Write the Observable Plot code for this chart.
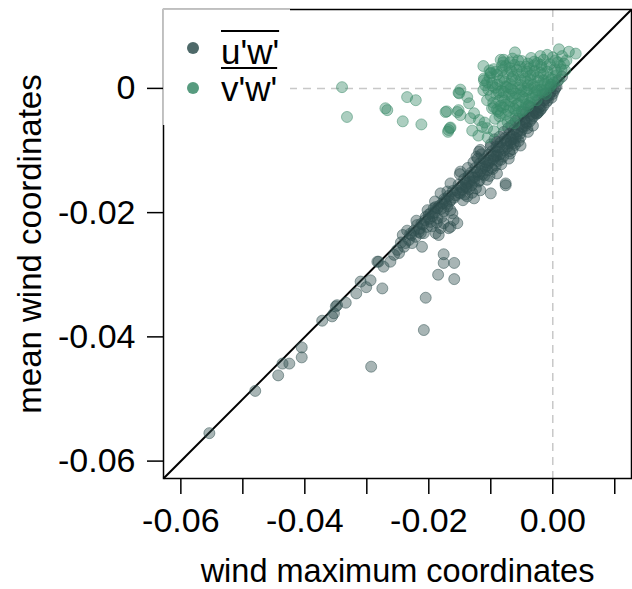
<!DOCTYPE html>
<html><head><meta charset="utf-8">
<script src="https://cdn.jsdelivr.net/npm/d3@7"></script>
<script src="https://cdn.jsdelivr.net/npm/@observablehq/plot@0.6"></script>
<style>
body{margin:0;background:#fff;font-family:"Liberation Sans",Arial,sans-serif;}
#wrap{position:relative;width:632px;height:589px;overflow:hidden;}
#legend{position:absolute;left:163px;top:9px;width:127px;height:116px;background:#fff;border-top:1px solid #c4c4c4;border-left:1px solid #c4c4c4;box-sizing:border-box;}
.ld{position:absolute;width:12px;height:12px;border-radius:50%;}
.lt{position:absolute;font-size:35px;line-height:1;white-space:nowrap;text-decoration:overline;text-decoration-thickness:2px;color:#000;}
</style>
</head><body>
<div id="wrap"><div id="legend"></div></div>
<script>
const lim = [-0.0628, 0.0127];
const seriesNames = ["u'w'", "v'w'"];
const seriesColors = ["#2f4f4f", "#3a8a68"];

const xTicks = [-0.06,-0.05,-0.04,-0.03,-0.02,-0.01,0,0.01];
const xTickLabels = ["-0.06","","-0.04","","-0.02","","0.00",""];
const yTicks = [0,-0.02,-0.04,-0.06];
const yTickLabels = ["0","-0.02","-0.04","-0.06"];
const xTitle = "wind maximum coordinates";
const yTitle = "mean wind coordinates";

// u'w' (values in units of 0.001)
const uX = [-55.4,-48.0,-44.3,-43.6,-42.5,-40.5,-40.5,-29.3,-37.2,-35.6,-35.3,-35.0,-34.8,-33.4,-31.7,-31.0,-30.1,-29.4,-27.5,-28.1,-27.3,-28.3,-26.2,-25.6,-24.8,-25.1,-24.0,-23.2,-22.7,-22.1,-21.6,-21.1,-20.8,-20.3,-19.7,-18.9,-18.1,-18.4,-17.6,-16.8,-16.0,-16.2,-19.7,-18.6,-17.8,-17.0,-16.5,-15.4,-17.6,-17.6,-15.9,-18.5,-15.9,-20.5,-20.8,-18.1,-17.0,-14.9,-13.8,-12.7,-10.0,-21.3,-16.5,-17.6,-18.6,-20.5,-19.2,-16.5,-14.9,-13.8,-11.7,-11.7,-10.0,-8.4,-7.1,-7.6,-9.0,-10.6,-6.3,-7.6,-11.9,-6.8,-5.2,-4.1,-2.5,-2.3,
-24.5,-23.8,-23.0,-22.4,-21.9,-21.2,-20.6,-20.0,-19.4,-18.9,-18.3,-17.5,-17.2,-16.8,-16.1,-15.7,-15.2,-14.8,-14.3,-14.0,-13.6,-13.2,-12.9,-12.5,-12.2,-11.8,-11.4,-11.1,-10.8,-10.4,-10.1,-9.8,-9.5,-9.1,-8.8,-8.4,-8.1,-7.7,-7.4,-7.0,-6.6,-6.2,-5.8,-5.4,-5.0,-4.6,-4.2,-3.8,-3.4,-3.0,-2.6,-2.2,-1.8,-1.4,-1.0,-0.6,-0.2,0.2,0.6,
-13.5,-12.0,-10.5,-9.2,-8.0,-6.5,-5.5,-4.0,-3.2,-15.0,-12.8,-11.5,-10.0,-8.6,-7.2,-6.0,-4.8,-3.6,-2.4,-1.2,-19.0,-20.2,-22.0,-23.5,-24.2,
-14.5,-13.0,-11.0,-9.7,-8.3,-6.9,-5.2,-12.3,-9.4,-7.9,-5.6,-3.9,-1.6,0.8,1.5,-0.3,
-22.8,-21.5,-20.9,-19.9,-19.1,-18.0,-17.3,-16.6,-15.9,-15.5,-14.6,-14.1,-13.4,-12.7,-12.0,-11.6,-10.9,-10.3,-9.6,-9.0,-8.5,-7.8,-7.3,-6.8,-6.0,-5.3,-4.9,-4.4,-3.7,-3.1,-2.8,-2.0,-1.5,-0.8,-0.4,0.0,0.4,
-16.4,-15.1,-13.9,-12.6,-11.3,-10.6,-9.3,-8.7,-7.5,-6.4,-5.7,-4.5,-3.3,-2.1,-1.1,-18.7,-17.9,-19.5,-14.2,-13.1,-12.4,-11.8,-10.2,-9.9,-8.9,-7.0,-6.1,-13.7,-12.1,-9.0,-6.7,-4.3];
const uY = [-55.5,-48.7,-46.2,-44.3,-44.3,-41.7,-43.3,-44.8,-37.4,-36.7,-36.2,-35.1,-34.9,-34.5,-33.0,-31.1,-32.0,-30.9,-32.2,-27.9,-28.7,-27.9,-27.9,-26.8,-26.5,-26.0,-25.5,-24.4,-24.9,-23.9,-23.1,-25.5,-23.3,-22.3,-21.5,-23.3,-22.5,-23.6,-21.7,-22.5,-21.2,-20.1,-20.1,-19.3,-18.5,-19.0,-19.6,-21.7,-26.7,-28.1,-28.1,-30.0,-30.7,-33.7,-38.9,-16.9,-16.6,-16.9,-17.4,-17.7,-16.9,-23.3,-22.3,-19.8,-20.9,-20.7,-19.3,-15.3,-13.4,-15.3,-16.4,-9.9,-9.4,-11.5,-11.3,-15.3,-13.7,-14.7,-8.8,-15.6,-10.2,-8.3,-7.8,-6.4,-4.0,-3.8,
-24.8,-24.9,-23.4,-22.9,-22.0,-21.8,-21.2,-20.3,-20.6,-19.1,-18.9,-17.8,-18.6,-17.3,-16.5,-17.2,-15.5,-15.9,-14.6,-15.2,-14.1,-13.6,-14.4,-12.8,-13.5,-12.1,-12.9,-11.4,-11.9,-10.7,-11.6,-10.1,-10.9,-9.4,-10.2,-8.7,-9.6,-8.0,-8.9,-7.3,-8.2,-6.6,-7.4,-5.9,-6.7,-5.0,-5.6,-4.3,-4.9,-3.5,-4.1,-2.6,-3.2,-1.9,-2.2,-1.1,-1.5,-0.4,0.3,
-16.2,-15.0,-13.2,-12.4,-11.0,-9.8,-8.5,-7.0,-6.0,-13.8,-11.9,-10.6,-9.0,-7.8,-6.4,-5.2,-4.2,-3.0,-2.0,-0.8,-18.2,-19.6,-21.3,-22.9,-23.6,
-18.0,-16.8,-14.0,-13.0,-12.2,-10.5,-9.2,-11.0,-8.2,-7.0,-4.9,-2.8,-1.0,1.2,1.9,0.2,
-23.6,-22.6,-21.9,-21.0,-20.0,-19.4,-18.0,-18.2,-17.6,-16.4,-16.3,-15.7,-15.0,-14.9,-13.9,-13.3,-12.6,-12.0,-11.4,-10.8,-10.6,-9.9,-9.4,-8.7,-8.0,-7.3,-6.2,-6.0,-5.3,-4.5,-3.9,-3.5,-2.8,-1.9,-0.7,-0.9,0.0,
-17.9,-16.8,-16.0,-14.3,-13.8,-12.4,-11.0,-9.5,-8.4,-7.8,-6.9,-5.4,-4.2,-3.0,-1.6,-21.6,-20.7,-22.2,-17.1,-15.6,-16.1,-14.8,-14.1,-12.8,-11.7,-10.1,-9.1,-12.8,-11.3,-8.6,-6.0,-3.9];

// v'w' (values in units of 0.001)
const vX = [-34.0,-33.2,-23.5,-22.1,-27.0,-26.7,-24.2,-21.2,-17.3,-16.6,-16.9,-15.2,-15.4,-14.9,-15.1,
-11.2,-10.0,-8.4,-7.9,-6.1,-6.7,-4.3,-2.0,-0.9,1.0,2.6,3.7,-11.1,-11.2,
-13.8,-13.5,-15.2,-14.9,-12.7,-11.9,-11.4,-10.6,-13.3,-10.6,-9.5,-8.4,-17.1,-16.8,-16.5,-11.1,-10.9,-10.0,
-13.0,-12.0,-10.5,-9.5,-11.0,
-8.0,-6.5,-5.0,-3.5,-2.5,-1.5,0.0,1.5,2.2,-0.5,
-9.5,-8.2,-7.0,-5.8,-4.9,-3.8,-2.9,-1.8,-0.9,0.3,1.2,2.0,-6.2,-3.0,
-10.2,-9.0,-8.0,-7.3,-6.4,-5.5,-4.5,-3.6,-2.4,-1.5,-0.6,0.4,1.0,-8.6,
-9.8,-8.9,-7.8,-6.9,-6.0,-5.1,-4.1,-3.2,-2.3,-1.3,-0.4,0.1,
-10.4,-9.3,-8.3,-7.4,-6.5,-5.6,-4.7,-3.8,-2.9,-1.9,-1.1,
-10.0,-9.1,-8.1,-7.1,-6.2,-5.3,-4.4,-3.4,-2.6,
-9.6,-8.7,-7.7,-6.8,-5.9,-5.0,-4.0,
-9.0,-8.0,-7.2,-6.3,-5.4,-4.6,
-8.6,-7.6,-6.8,-5.9,-7.3,-6.2,-8.1,-9.3,
-7.6,-5.3,-4.0,-1.0,0.8,-2.0,-3.2,-4.2,-5.2,-6.6,-7.6,-8.7,-9.7,-6.0,-4.2,-3.0,-2.0,-1.5,-0.8,0.6,
-3.7,-4.8,-5.6,-6.6,-7.8,-8.4,-9.8,-8.8,-7.0,-6.0,-5.0,-4.3,-3.3,-2.7,-1.7,
-8.2,-9.1,-10.6,-10.2,-6.9,-5.6,-3.0,-1.9,0.4,1.8,-0.2,1.4,-0.3,-1.2,-7.9,-6.8,-5.1,-4.0,-2.5,-3.6];
const vY = [0.2,-4.6,-1.4,-1.9,-3.2,-3.5,-5.3,-5.8,-3.8,-6.4,-7.0,-0.7,-3.8,-0.2,-0.8,
3.6,2.5,4.6,4.6,5.8,2.8,3.5,5.2,5.4,6.3,5.9,5.6,1.6,-0.3,
-1.4,-2.4,-3.5,-4.3,-4.0,-5.1,-6.2,-6.4,-4.8,-1.9,-3.0,-4.0,-3.7,-6.7,-6.3,1.3,0.5,2.4,
-6.8,-7.6,-7.9,-6.9,-5.5,
4.2,4.8,4.4,4.9,4.1,4.6,5.0,5.2,4.5,3.9,
3.1,2.9,3.3,3.0,2.6,3.2,2.8,3.4,2.7,3.1,3.6,2.9,3.8,3.7,
1.8,2.2,1.7,2.4,1.9,2.2,1.6,2.1,1.8,2.3,1.7,2.0,1.4,1.2,
0.9,0.6,1.1,0.7,1.2,0.5,1.0,0.6,1.2,0.8,0.3,0.9,
-0.2,0.1,-0.4,0.2,-0.3,0.1,-0.5,-0.1,-0.6,-0.2,-0.9,
-1.2,-0.9,-1.5,-1.0,-1.6,-1.1,-1.7,-1.3,-1.9,
-2.3,-2.0,-2.6,-2.1,-2.7,-2.2,-2.9,
-3.4,-3.1,-3.6,-3.2,-3.8,-3.3,
-4.5,-4.2,-4.8,-4.4,-5.4,-5.6,-5.9,-4.9,
3.6,3.5,4.0,3.5,4.2,2.5,2.3,2.7,1.3,1.5,0.3,-0.6,0.4,-0.8,-0.4,0.2,0.5,1.3,0.9,2.6,
-2.3,-1.4,-2.5,-1.3,-2.0,-2.8,-3.2,-3.7,-3.0,-3.5,-3.7,-2.6,-1.6,-1.1,-0.6,
3.6,2.7,1.0,2.9,4.2,4.5,4.3,3.8,4.5,4.0,1.5,3.0,0.6,-0.3,-0.6,0.0,-0.2,0.5,-0.3,1.4];

const uPts = uX.map((x, i) => ({x: x / 1000, y: uY[i] / 1000}));
const vPts = vX.map((x, i) => ({x: x / 1000, y: vY[i] / 1000}));

const dotStyle = c => ({x: "x", y: "y", r: 5.5, fill: c, fillOpacity: 0.42, stroke: c, strokeOpacity: 0.5, strokeWidth: 1});
const font = '"Liberation Sans", Arial, sans-serif';

const chart = Plot.plot({
  width: 632, height: 589,
  marginLeft: 163, marginRight: 1, marginTop: 9, marginBottom: 111,
  style: {fontFamily: font, fontSize: "33px", background: "white", color: "black"},
  x: {domain: lim, label: null},
  y: {domain: lim, label: null},
  marks: [
    Plot.ruleY([0], {stroke: "#c8c8c8", strokeWidth: 1.5, strokeDasharray: "8,6"}),
    Plot.ruleX([0], {stroke: "#c8c8c8", strokeWidth: 1.5, strokeDasharray: "8,6"}),
    Plot.link([{a: lim[0], b: lim[1]}], {x1: "a", y1: "a", x2: "b", y2: "b", stroke: "black", strokeWidth: 2}),
    Plot.dot(uPts, dotStyle(seriesColors[0])),
    Plot.dot(vPts, dotStyle(seriesColors[1])),
    Plot.frame({stroke: "black", strokeWidth: 1.5}),
    Plot.axisX(xTicks, {tickSize: 16, tickPadding: 13, strokeWidth: 1.5, fontSize: 34, label: null,
      tickFormat: d => xTickLabels[xTicks.indexOf(d)]}),
    Plot.axisY(yTicks, {tickSize: 16, tickPadding: 12, strokeWidth: 1.5, fontSize: 34, label: null,
      tickFormat: d => yTickLabels[yTicks.indexOf(d)]}),
    Plot.text([xTitle], {text: d => d, frameAnchor: "bottom", lineAnchor: "middle", textAnchor: "middle", dy: 93, fontSize: 32.5}),
    Plot.text([yTitle], {text: d => d, frameAnchor: "left", lineAnchor: "middle", textAnchor: "middle", dx: -133, rotate: -90, fontSize: 33})
  ]
});
const wrap = document.getElementById("wrap");
wrap.insertBefore(chart, wrap.firstChild);

const legend = document.getElementById("legend");
const legendDotTop = [32, 72];
const legendTextTop = [24, 61];
seriesNames.forEach((name, i) => {
  const dot = document.createElement("div");
  dot.className = "ld";
  dot.style.left = "23px";
  dot.style.top = legendDotTop[i] + "px";
  dot.style.background = seriesColors[i];
  dot.style.opacity = 0.85;
  legend.appendChild(dot);
  const t = document.createElement("span");
  t.className = "lt";
  t.style.left = "57px";
  t.style.top = legendTextTop[i] + "px";
  t.textContent = name;
  legend.appendChild(t);
});
</script>
</body></html>
